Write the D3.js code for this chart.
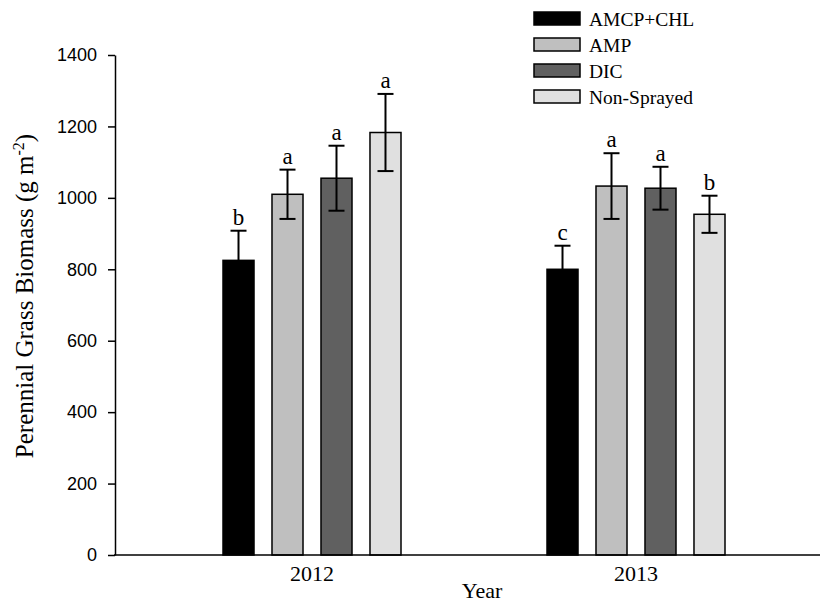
<!DOCTYPE html>
<html><head><meta charset="utf-8">
<script src="https://cdn.jsdelivr.net/npm/d3@7"></script>
<style>body{margin:0;background:#fff}svg{display:block}</style>
</head><body>
<script>
const years = ["2012", "2013"];
const treatments = ["AMCP+CHL", "AMP", "DIC", "Non-Sprayed"];
const colors = ["#000000", "#bfbfbf", "#606060", "#e0e0e0"];
const means2012 = [825, 1010, 1055, 1183];
const errors2012 = [83, 69, 91, 108];
const letters2012 = ["b", "a", "a", "a"];
const means2013 = [800, 1033, 1027, 954];
const errors2013 = [66, 92, 60, 52];
const letters2013 = ["c", "a", "a", "b"];
const yTicks = [0, 200, 400, 600, 800, 1000, 1200, 1400];

const data = [];
years.forEach((yr, i) => {
  const m = i === 0 ? means2012 : means2013;
  const e = i === 0 ? errors2012 : errors2013;
  const l = i === 0 ? letters2012 : letters2013;
  treatments.forEach((t, j) => data.push({year: yr, t, mean: m[j], err: e[j], letter: l[j], color: colors[j]}));
});

const W = 820, H = 604;
const svg = d3.select("body").append("svg").attr("width", W).attr("height", H);

const y = d3.scaleLinear().domain([0, 1400]).range([555, 55]);
const x0 = d3.scaleBand().domain(years).range([150, 798]);
const groupW = 178;
const x1 = d3.scaleBand().domain(treatments).range([0, groupW]).paddingInner(0.367).paddingOuter(0);
const groupOffset = (x0.bandwidth() - groupW) / 2;

const serif = "'Liberation Serif','Times New Roman',serif";
const sans = "'Liberation Sans',Arial,sans-serif";

// bars
const g = svg.append("g");
g.selectAll("rect.bar").data(data).join("rect")
  .attr("x", d => x0(d.year) + groupOffset + x1(d.t))
  .attr("y", d => y(d.mean))
  .attr("width", x1.bandwidth())
  .attr("height", d => y(0) - y(d.mean))
  .attr("fill", d => d.color)
  .attr("stroke", "#000").attr("stroke-width", 1.5);

// error bars
const cx = d => x0(d.year) + groupOffset + x1(d.t) + x1.bandwidth() / 2;
g.selectAll("line.err").data(data).join("line")
  .attr("x1", cx).attr("x2", cx)
  .attr("y1", d => y(d.mean - d.err)).attr("y2", d => y(d.mean + d.err))
  .attr("stroke", "#000").attr("stroke-width", 2);
g.selectAll("line.capT").data(data).join("line")
  .attr("x1", d => cx(d) - 8).attr("x2", d => cx(d) + 8)
  .attr("y1", d => y(d.mean + d.err)).attr("y2", d => y(d.mean + d.err))
  .attr("stroke", "#000").attr("stroke-width", 2);
g.selectAll("line.capB").data(data).join("line")
  .attr("x1", d => cx(d) - 8).attr("x2", d => cx(d) + 8)
  .attr("y1", d => y(d.mean - d.err)).attr("y2", d => y(d.mean - d.err))
  .attr("stroke", d => d.color === "#000000" ? "none" : "#000").attr("stroke-width", 2);

// letters
g.selectAll("text.letter").data(data).join("text")
  .attr("x", cx).attr("y", d => y(d.mean + d.err) - 6)
  .attr("text-anchor", "middle")
  .attr("font-family", serif).attr("font-size", 23)
  .text(d => d.letter);

// y axis
const yAxis = svg.append("g").attr("transform", "translate(115,0)")
  .call(d3.axisLeft(y).tickValues(yTicks).tickFormat(d3.format("d")).tickSize(7).tickPadding(11).tickSizeOuter(0));
yAxis.select(".domain").attr("stroke-width", 1.5);
yAxis.selectAll(".tick line").attr("stroke-width", 1.5);
yAxis.selectAll("text").attr("font-family", sans).attr("font-size", 18).attr("fill", "#000");

// x axis
const xAxis = svg.append("g").attr("transform", "translate(0,555)")
  .call(d3.axisBottom(x0).tickSize(0).tickPadding(10));
xAxis.select(".domain").remove();
xAxis.selectAll("text").attr("font-family", serif).attr("font-size", 22).attr("fill", "#000");
svg.append("line").attr("x1", 114).attr("x2", 820).attr("y1", 555).attr("y2", 555)
  .attr("stroke", "#000").attr("stroke-width", 1.5);

// axis titles
svg.append("text").attr("x", 482).attr("y", 598).attr("text-anchor", "middle")
  .attr("font-family", serif).attr("font-size", 22).text("Year");
const yl = svg.append("text").attr("transform", "translate(33,296) rotate(-90)")
  .attr("text-anchor", "middle").attr("font-family", serif).attr("font-size", 25);
yl.append("tspan").text("Perennial Grass Biomass (g m");
yl.append("tspan").attr("dy", -9).attr("font-size", 16).text("-2");
yl.append("tspan").attr("dy", 9).text(")");

// legend
const lg = svg.append("g").attr("transform", "translate(534,12)");
const items = lg.selectAll("g").data(treatments).join("g")
  .attr("transform", (d, i) => `translate(0,${i * 26})`);
items.append("rect").attr("width", 46).attr("height", 13)
  .attr("fill", (d, i) => colors[i]).attr("stroke", "#000").attr("stroke-width", 1.5);
items.append("text").attr("x", 55).attr("y", 13.5)
  .attr("font-family", serif).attr("font-size", 19.5).text(d => d);
</script>
</body></html>
